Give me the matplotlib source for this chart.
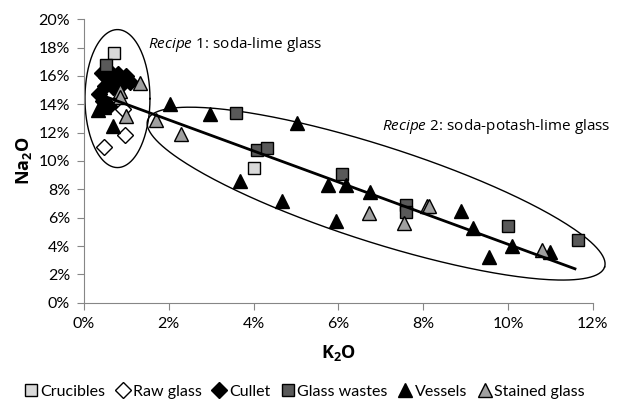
import matplotlib
matplotlib.use("Agg")
import matplotlib.pyplot as plt
import numpy as np
from matplotlib.lines import Line2D

# K2O (%) and Na2O (%)
crucibles_x = [0.70, 4.00]
crucibles_y = [17.6, 9.5]

raw_glass_x = [0.48, 0.97, 0.92]
raw_glass_y = [11.0, 11.85, 13.7]

cullet_x = [0.42, 0.52, 0.62, 0.72, 0.80, 0.90, 0.98, 1.08, 0.50, 0.68, 0.36, 0.45, 0.58, 0.85]
cullet_y = [16.2, 15.9, 16.3, 15.8, 16.1, 15.6, 16.0, 15.6, 15.3, 15.2, 14.7, 14.2, 13.9, 15.3]

wastes_x = [0.52, 3.58, 4.08, 4.32, 6.08, 7.60, 7.60, 10.00, 11.65]
wastes_y = [16.8, 13.4, 10.8, 10.9, 9.1, 6.9, 6.4, 5.45, 4.45]

vessels_x = [0.34, 0.48, 0.68, 2.04, 2.97, 5.02, 3.68, 4.66, 5.75, 6.18, 6.75, 5.94,
             8.90, 9.17, 9.55, 10.10, 10.99]
vessels_y = [13.6, 13.8, 12.5, 14.0, 13.3, 12.7, 8.6, 7.2, 8.3, 8.3, 7.8, 5.8,
             6.5, 5.3, 3.2, 4.0, 3.6]

stained_x = [1.32, 0.85, 0.85, 1.00, 1.71, 2.30, 6.72, 8.08, 8.14, 7.55, 10.80]
stained_y = [15.5, 14.9, 14.5, 13.2, 12.9, 11.9, 6.35, 6.8, 6.8, 5.65, 3.7]

# linear trend line
trend_x = [0.54, 11.58]
trend_y = [14.5, 2.4]

plt.rcParams['font.family'] = ['Lato', 'DejaVu Sans']
plt.rcParams['mathtext.fontset'] = 'custom'
plt.rcParams['mathtext.rm'] = 'Open Sans'
plt.rcParams['mathtext.it'] = 'Open Sans:italic'
plt.rcParams['mathtext.bf'] = 'Open Sans:bold'

fig = plt.figure(figsize=(6.22, 4.16), dpi=100)
ax = fig.add_axes([0.135, 0.272, 0.818, 0.682])
ax.set_xlim(0, 12)
ax.set_ylim(0, 20)

# px per unit along each axis, used to draw the ellipses
sx = 0.818 * 622 / 12.0
sy = 0.682 * 416 / 20.0


def draw_ellipse(cx, cy, a_px, b_px, ang_deg):
    t = np.linspace(0, 2 * np.pi, 300)
    th = np.radians(ang_deg)
    px = a_px * np.cos(t) * np.cos(th) - b_px * np.sin(t) * np.sin(th)
    py = a_px * np.cos(t) * np.sin(th) + b_px * np.sin(t) * np.cos(th)
    ax.plot(cx + px / sx, cy + py / sy, color='black', lw=1.0, zorder=2, clip_on=False)


draw_ellipse(0.79, 14.4, 32.5, 69, 0)
draw_ellipse(6.89, 7.70, 240, 48, -17.8)

mk = dict(markeredgecolor='black', markeredgewidth=1.0, linestyle='none', zorder=3)
ax.plot(crucibles_x, crucibles_y, marker='s', ms=9, markerfacecolor='#d9d9d9', **mk)
ax.plot(raw_glass_x, raw_glass_y, marker='D', ms=8, markerfacecolor='white', **mk)
ax.plot(cullet_x, cullet_y, marker='D', ms=8, markerfacecolor='black', **mk)
ax.plot(wastes_x, wastes_y, marker='s', ms=9, markerfacecolor='#595959', **mk)
ax.plot(vessels_x, vessels_y, marker='^', ms=10, markerfacecolor='black', **mk)
ax.plot(stained_x, stained_y, marker='^', ms=10, markerfacecolor='#a0a0a0', **mk)

ax.plot(trend_x, trend_y, color='black', lw=2, zorder=4)

ax.text(1.51, 18.2, r'$\it{Recipe\ 1}$: soda-lime glass', fontsize=11,
        family='Open Sans', va='center', ha='left')
ax.text(7.03, 12.4, r'$\it{Recipe\ 2}$: soda-potash-lime glass', fontsize=11,
        family='Open Sans', va='center', ha='left')

ax.set_xticks(np.arange(0, 13, 2))
ax.set_yticks(np.arange(0, 21, 2))
ax.set_xticklabels(['%d%%' % v for v in range(0, 13, 2)])
ax.set_yticklabels(['%d%%' % v for v in range(0, 21, 2)])
ax.tick_params(direction='out', length=5, width=0.8, color='#868686',
               labelsize=11.5, pad=5)
for s in ['top', 'right']:
    ax.spines[s].set_visible(False)
for s in ['left', 'bottom']:
    ax.spines[s].set_color('#868686')
    ax.spines[s].set_linewidth(0.8)

ax.set_xlabel(r'$\mathbf{K_2O}$', fontsize=13, labelpad=9)
ax.set_ylabel(r'$\mathbf{Na_2O}$', fontsize=13, labelpad=3)

handles = [
    Line2D([], [], marker='s', ms=9, markerfacecolor='#d9d9d9', **mk),
    Line2D([], [], marker='D', ms=8, markerfacecolor='white', **mk),
    Line2D([], [], marker='D', ms=8, markerfacecolor='black', **mk),
    Line2D([], [], marker='s', ms=9, markerfacecolor='#595959', **mk),
    Line2D([], [], marker='^', ms=10, markerfacecolor='black', **mk),
    Line2D([], [], marker='^', ms=10, markerfacecolor='#a0a0a0', **mk),
]
labels = ['Crucibles', 'Raw glass', 'Cullet', 'Glass wastes', 'Vessels', 'Stained glass']
fig.legend(handles, labels, loc='center', bbox_to_anchor=(0.49, 0.058), ncol=6,
           frameon=False, fontsize=11.5, handlelength=0.8, handletextpad=0.2,
           columnspacing=0.7)

fig.savefig('out.png', dpi=100)
